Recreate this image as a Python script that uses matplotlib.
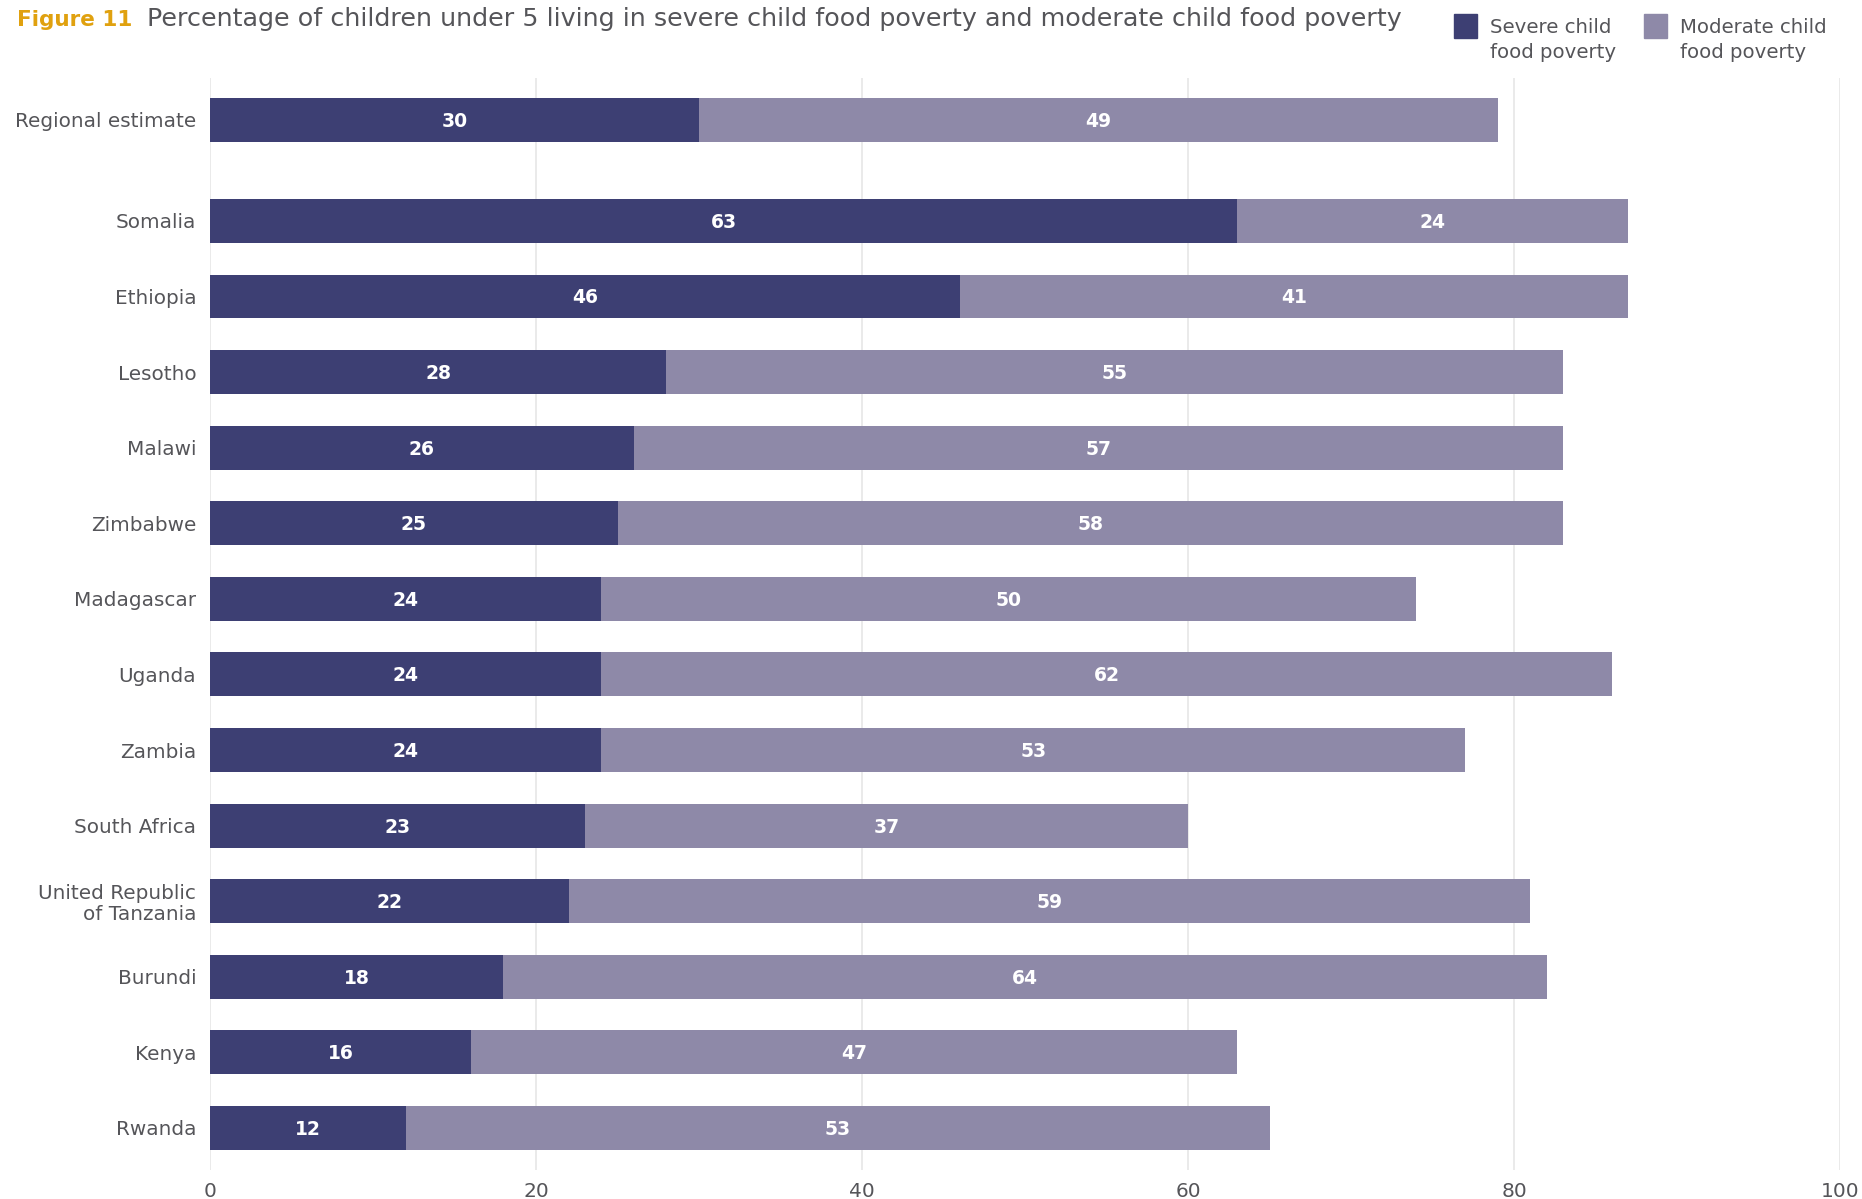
import numpy as np
import matplotlib.pyplot as plt
from matplotlib.patches import Rectangle

# Children under 5 in child food poverty (%), by country
countries = ['Regional estimate', 'Somalia', 'Ethiopia', 'Lesotho', 'Malawi',
             'Zimbabwe', 'Madagascar', 'Uganda', 'Zambia', 'South Africa',
             'United Republic\nof Tanzania', 'Burundi', 'Kenya', 'Rwanda']
severe = [30, 63, 46, 28, 26, 25, 24, 24, 24, 23, 22, 18, 16, 12]
moderate = [49, 24, 41, 55, 57, 58, 50, 62, 53, 37, 59, 64, 47, 53]
xticks = [0, 20, 40, 60, 80, 100]

c_severe = '#3d3f73'
c_moderate = '#8e89a8'
c_text = '#555559'
c_title = '#e0a10f'

# regional row sits a bit apart from the country rows
ypos = np.array([0.0] + [1.335 + i for i in range(len(countries) - 1)])

fig = plt.figure(figsize=(18.62, 11.99), dpi=100)
ax = fig.add_axes([0.1128, 0.0242, 0.8754, 0.9108])

ax.barh(ypos, severe, height=0.58, color=c_severe, zorder=3)
ax.barh(ypos, moderate, left=severe, height=0.58, color=c_moderate, zorder=3)

for y, s, m in zip(ypos, severe, moderate):
    ax.text(s / 2, y + 0.02, str(s), ha='center', va='center', color='white',
            fontsize=13.5, fontweight='bold', zorder=4)
    ax.text(s + m / 2, y + 0.02, str(m), ha='center', va='center',
            color='white', fontsize=13.5, fontweight='bold', zorder=4)

ax.set_xlim(0, 100)
ax.set_ylim(13.335 + 0.556, -0.556)
ax.set_xticks(xticks)
ax.set_xticklabels([str(t) for t in xticks], fontsize=14.5, color=c_text)
ax.set_yticks(ypos)
ax.set_yticklabels(countries, fontsize=14.4, color=c_text, linespacing=1.15)
ax.tick_params(length=0)
ax.tick_params(axis='x', pad=8.5)
ax.tick_params(axis='y', pad=10)
ax.grid(axis='x', color='#e6e6e6', linewidth=1.2, zorder=0)
for sp in ax.spines.values():
    sp.set_visible(False)

# title
fig.text(0.0091, 0.9783, 'Figure 11', ha='left', va='baseline', fontsize=15.5,
         fontweight='bold', color=c_title)
fig.text(0.0789, 0.9783,
         'Percentage of children under 5 living in severe child food poverty '
         'and moderate child food poverty',
         ha='left', va='baseline', fontsize=18.3, color=c_text)

# legend
for x0, col, lines in [(0.7809, c_severe, ('Severe child', 'food poverty')),
                       (0.8829, c_moderate, ('Moderate child', 'food poverty'))]:
    fig.add_artist(Rectangle((x0, 0.9683), 0.0124, 0.020, color=col,
                             transform=fig.transFigure))
    fig.text(x0 + 0.0193, 0.9725, lines[0], ha='left', va='baseline',
             fontsize=14.2, color=c_text)
    fig.text(x0 + 0.0193, 0.9516, lines[1], ha='left', va='baseline',
             fontsize=14.2, color=c_text)

fig.savefig('out.png', dpi=100)
